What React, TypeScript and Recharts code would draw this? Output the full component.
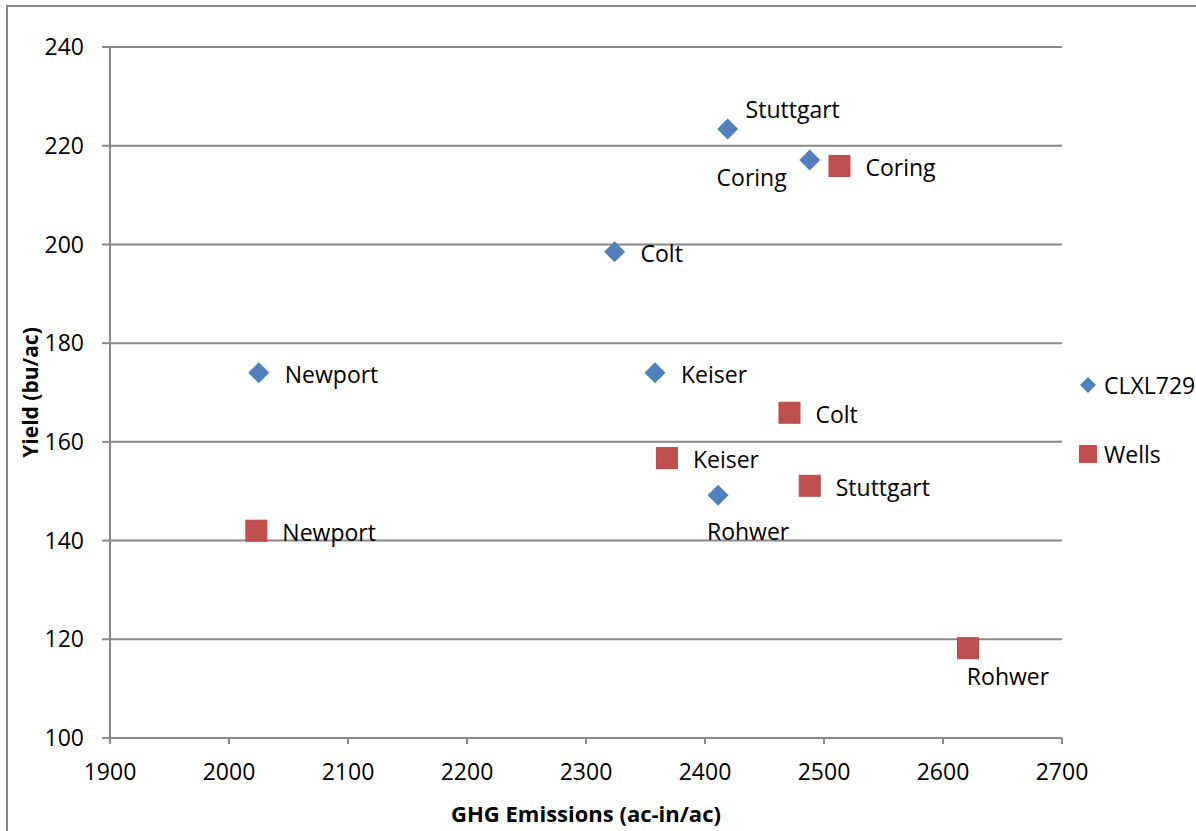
import React from 'react';
import { ScatterChart, Scatter, XAxis, YAxis, CartesianGrid, Legend } from 'recharts';

const sites = ['Newport', 'Colt', 'Keiser', 'Stuttgart', 'Coring', 'Rohwer'];
const seriesNames = ['CLXL729', 'Wells'];

// GHG emissions (ac-in/ac) and yield (bu/ac) per site
const clxlGhg = [2025, 2324, 2358, 2419, 2488, 2411];
const clxlYield = [174, 198.5, 174, 223.4, 217.1, 149.2];
const wellsGhg = [2023, 2471, 2368, 2488, 2513, 2621];
const wellsYield = [142, 165.9, 156.7, 151.1, 215.9, 118.2];

const xTicks = [1900, 2000, 2100, 2200, 2300, 2400, 2500, 2600, 2700];
const yTicks = [100, 120, 140, 160, 180, 200, 220, 240];

const BLUE = '#4F81BD';
const RED = '#C0504D';
const GREY = '#898989';
const FONT = '"Open Sans", sans-serif';

const clxlData = sites.map((s, i) => ({ site: s, ghg: clxlGhg[i], yield: clxlYield[i] }));
const wellsData = sites.map((s, i) => ({ site: s, ghg: wellsGhg[i], yield: wellsYield[i] }));

// label placement relative to the marker: [dx, dy, anchor]
const labelSpots: Record<string, [number, number, string]> = {
  'CLXL729:Stuttgart': [18, -20, 'start'],
  'CLXL729:Coring': [-23, 17, 'end'],
  'CLXL729:Rohwer': [30, 36, 'middle'],
  'Wells:Rohwer': [40, 28, 'middle'],
};

const pointLabel = (series: string, site: string, cx: number, cy: number) => {
  const [dx, dy, anchor] = labelSpots[`${series}:${site}`] || [26, 1, 'start'];
  return (
    <text x={cx + dx} y={cy + dy} textAnchor={anchor as any} dominantBaseline="central"
      fontSize={23} fontFamily={FONT} fill="#000">
      {site}
    </text>
  );
};

const Diamond = (props: any) => {
  const { cx, cy, payload } = props;
  const r = 10.5;
  return (
    <g>
      <polygon points={`${cx},${cy - r} ${cx + r},${cy} ${cx},${cy + r} ${cx - r},${cy}`} fill={BLUE} />
      {pointLabel('CLXL729', payload.site, cx, cy)}
    </g>
  );
};

const Square = (props: any) => {
  const { cx, cy, payload } = props;
  const h = 10.5;
  return (
    <g>
      <rect x={cx - h} y={cy - h} width={h * 2} height={h * 2} fill={RED} stroke="#B84A47" strokeWidth={1} />
      {pointLabel('Wells', payload.site, cx, cy)}
    </g>
  );
};

const LegendBox = (props: any) => {
  const { payload = [] } = props;
  return (
    <div style={{ fontFamily: FONT, fontSize: 23, color: '#000' }}>
      {payload.map((p: any, i: number) => (
        <div key={i} style={{ display: 'flex', alignItems: 'center', height: 32, marginBottom: i === 0 ? 37 : 0 }}>
          <svg width={20} height={20} style={{ marginRight: 6 }}>
            {p.value === seriesNames[0] ? (
              <polygon points="10,2 18,10 10,18 2,10" fill={BLUE} />
            ) : (
              <rect x={1} y={1} width={18} height={18} fill={RED} />
            )}
          </svg>
          <span>{p.value}</span>
        </div>
      ))}
    </div>
  );
};

export default function App() {
  return (
    <div style={{ position: 'absolute', left: 0, top: 0, width: 1196, height: 831, overflow: 'hidden', background: '#fff' }}>
      <div style={{ position: 'absolute', left: 6, top: 5, width: 1300, height: 900, borderLeft: `2px solid ${GREY}`, borderTop: `2px solid ${GREY}` }} />
      <ScatterChart width={1196} height={831} margin={{ top: 47, right: 134, bottom: 33, left: 40 }}
        style={{ fontFamily: FONT }}>
        <CartesianGrid vertical={false} stroke={GREY} strokeWidth={2} />
        <XAxis type="number" dataKey="ghg" domain={[1900, 2700]} ticks={xTicks} height={60}
          stroke={GREY} strokeWidth={2} tickSize={6} tickMargin={20}
          tick={{ fill: '#000', fontSize: 23, fontFamily: FONT }}
          label={{
            content: (lp: any) => {
              const vb = lp.viewBox;
              return (
                <text x={vb.x + vb.width / 2} y={vb.y + vb.height + 15} textAnchor="middle" dominantBaseline="central"
                  fontSize={22} fontWeight="bold" fontFamily={FONT} fill="#000">GHG Emissions (ac-in/ac)</text>
              );
            },
          }} />
        <YAxis type="number" dataKey="yield" domain={[100, 240]} ticks={yTicks} width={70}
          stroke={GREY} strokeWidth={2} tickSize={8} tickMargin={18}
          tick={{ fill: '#000', fontSize: 23, fontFamily: FONT }}
          label={{
            content: (lp: any) => {
              const vb = lp.viewBox;
              const x = vb.x - 10;
              const y = vb.y + vb.height / 2;
              return (
                <text x={x} y={y} transform={`rotate(-90 ${x} ${y})`} textAnchor="middle" dominantBaseline="central"
                  fontSize={21} fontWeight="bold" fontFamily={FONT} fill="#000">Yield (bu/ac)</text>
              );
            },
          }} />
        <Legend layout="vertical" align="center" verticalAlign="middle" content={<LegendBox />}
          wrapperStyle={{ left: 1078, top: 369, width: 120, height: 110 }} />
        <Scatter name={seriesNames[0]} data={clxlData} fill={BLUE} shape={Diamond} isAnimationActive={false} />
        <Scatter name={seriesNames[1]} data={wellsData} fill={RED} shape={Square} isAnimationActive={false} />
      </ScatterChart>
    </div>
  );
}
